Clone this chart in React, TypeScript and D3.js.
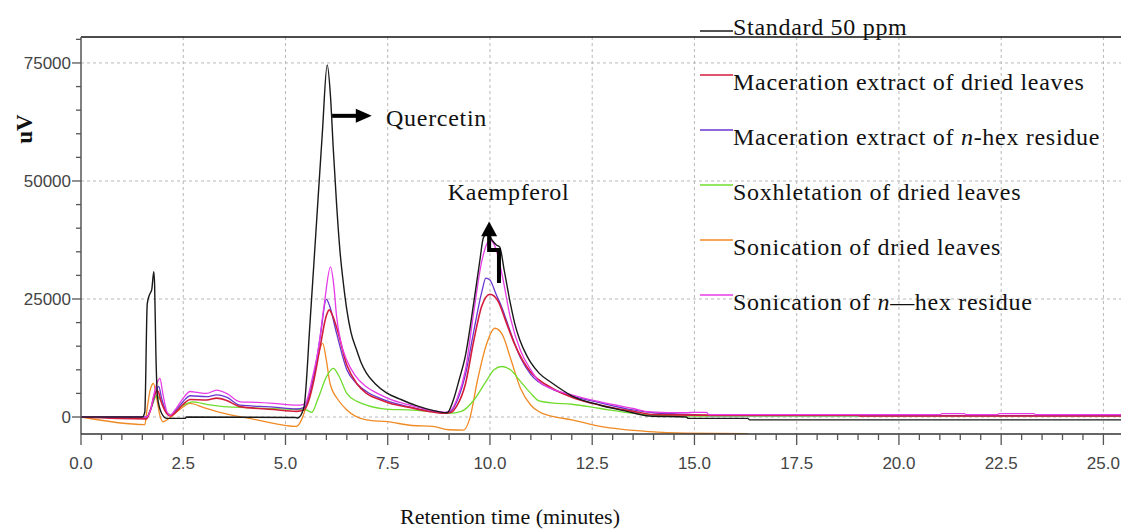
import React from "react";
import * as d3 from "d3";

// retention time (min), signal (uV)
const standard50 = [
  [0, 0], [1.5, 0], [1.56, 1000], [1.62, 24000], [1.68, 26000], [1.73, 27000], [1.78, 30800], [1.8, 28000],
  [1.83, 14000], [1.87, 4300], [1.97, 800], [2.1, -300], [2.55, -300], [2.58, 0], [5.25, -100], [5.3, -200],
  [5.45, 2000], [5.6, 20000], [5.75, 40000], [5.9, 60000], [6.02, 74600], [6.1, 68000], [6.17, 56600],
  [6.25, 45000], [6.33, 35400], [6.42, 28000], [6.5, 22700], [6.6, 18000], [6.74, 14200], [6.85, 11500],
  [6.98, 9300], [7.2, 7000], [7.47, 5100], [7.8, 3800], [8.2, 2400], [8.6, 1400], [8.95, 900], [9.1, 3500],
  [9.25, 8000], [9.4, 13000], [9.6, 24000], [9.75, 33000], [9.84, 38000], [9.95, 39000], [10.05, 37500],
  [10.15, 36500], [10.24, 36000], [10.35, 31000], [10.5, 24000], [10.6, 20000], [10.73, 16300], [10.9, 13000],
  [11.0, 11500], [11.2, 9300], [11.5, 7300], [12.0, 4500], [12.7, 2500], [13.3, 1300], [13.9, 200], [14.8, 0],
  [14.85, -300], [16.3, -300], [16.35, -600], [25.5, -600],
];

const macerationDried = [
  [0, 0], [1.6, -400], [1.7, 1500], [1.81, 5000], [1.88, 5500], [1.95, 3500], [2.1, 700], [2.18, 200],
  [2.3, 900], [2.5, 2700], [2.67, 3700], [3.07, 3600], [3.32, 4000], [3.56, 3500], [3.89, 2200], [4.7, 1600],
  [5.27, 1200], [5.45, 1500], [5.55, 3000], [5.7, 8000], [5.85, 15000], [6.0, 21500], [6.07, 22700],
  [6.15, 21500], [6.25, 19000], [6.5, 11000], [6.75, 7000], [6.98, 5000], [7.3, 3700], [7.55, 2900],
  [8.0, 2100], [8.5, 1200], [8.9, 800], [9.05, 1000], [9.2, 2500], [9.4, 7000], [9.6, 16000], [9.8, 23500],
  [10.0, 26000], [10.2, 24500], [10.4, 20000], [10.6, 15500], [10.8, 12000], [11.0, 9500], [11.5, 6200],
  [12.0, 4200], [12.7, 2500], [13.5, 1200], [14.0, 500], [15.0, 400], [19.0, 400], [19.05, 200], [25.5, 200],
];

const macerationHex = [
  [0, 0], [1.6, 0], [1.72, 2000], [1.82, 5000], [1.9, 6500], [1.97, 4000], [2.1, 900], [2.18, 300],
  [2.3, 1200], [2.5, 3300], [2.67, 4500], [3.07, 4300], [3.32, 4700], [3.56, 4200], [3.89, 2500], [4.7, 2100],
  [5.27, 1700], [5.45, 2000], [5.55, 3500], [5.7, 9000], [5.85, 17000], [6.0, 24900], [6.08, 23500],
  [6.25, 17700], [6.5, 10000], [6.75, 7000], [6.98, 5400], [7.3, 4000], [7.55, 3200], [8.0, 2200],
  [8.5, 1300], [8.9, 900], [9.05, 1300], [9.2, 3500], [9.4, 9000], [9.6, 18000], [9.8, 26500], [9.9, 29400],
  [10.0, 29000], [10.15, 26000], [10.3, 23000], [10.5, 18000], [10.75, 12500], [11.0, 9000], [11.5, 6000],
  [12.0, 4500], [12.7, 3000], [13.5, 1500], [14.0, 900], [15.0, 500], [15.5, 300], [25.5, 300],
];

const soxhletDried = [
  [0, 0], [1.6, 0], [1.72, 2000], [1.85, 4500], [1.95, 3500], [2.1, 900], [2.2, 500], [2.4, 2000],
  [2.6, 2900], [2.74, 3200], [3.1, 2600], [3.48, 2200], [4.3, 1900], [5.27, 1600], [5.5, 1500], [5.64, 1000],
  [5.8, 4000], [6.0, 8500], [6.17, 10300], [6.3, 8800], [6.5, 5000], [6.75, 3300], [6.98, 2500], [7.55, 1600],
  [8.0, 1500], [8.5, 1200], [9.0, 800], [9.3, 1200], [9.6, 3500], [9.9, 7500], [10.1, 10000], [10.29, 10700],
  [10.5, 10000], [10.75, 7500], [11.0, 5000], [11.2, 3400], [11.5, 3000], [12.0, 2700], [12.7, 1800],
  [13.5, 800], [14.0, 400], [15.0, 200], [25.5, 200],
];

const sonicationDried = [
  [0, 0], [1.56, -1600], [1.62, 2000], [1.7, 6000], [1.77, 7100], [1.85, 4000], [1.93, 300], [2.01, -1000],
  [2.15, -300], [2.4, 1500], [2.67, 2900], [3.0, 2000], [3.48, 800], [4.3, -600], [5.27, -2000],
  [5.35, -1300], [5.5, 2000], [5.7, 9000], [5.91, 15600], [6.0, 12000], [6.09, 7100], [6.3, 3500],
  [6.5, 1500], [6.98, -600], [7.5, -1000], [8.1, -1800], [8.6, -2000], [9.0, -2700], [9.35, -2800],
  [9.5, -500], [9.7, 8000], [9.9, 15000], [10.12, 18800], [10.3, 17500], [10.5, 12500], [10.75, 6000],
  [11.0, 2500], [11.2, 1100], [11.5, 200], [12.0, -600], [12.7, -2000], [13.9, -3100], [14.8, -3400],
  [16.3, -3500],
];

const sonicationHex = [
  [0, 0], [1.6, 0], [1.7, 1500], [1.77, 4300], [1.85, 7000], [1.93, 8200], [2.0, 5000], [2.1, 1100],
  [2.18, 400], [2.3, 1500], [2.5, 4000], [2.67, 5400], [2.85, 5200], [3.07, 5000], [3.32, 5700], [3.56, 5000],
  [3.89, 3200], [4.3, 3100], [4.7, 2900], [5.27, 2500], [5.45, 2700], [5.52, 3500], [5.65, 8000],
  [5.8, 14200], [5.95, 24000], [6.1, 31800], [6.18, 28000], [6.25, 21300], [6.35, 16000], [6.5, 12000],
  [6.7, 8800], [6.98, 6400], [7.3, 4800], [7.55, 3800], [8.0, 2600], [8.5, 1500], [8.9, 1000], [9.05, 1500],
  [9.2, 4000], [9.4, 10000], [9.6, 22000], [9.8, 33000], [10.0, 37500], [10.15, 35500], [10.3, 30000],
  [10.5, 21000], [10.75, 14000], [11.0, 10000], [11.2, 7500], [11.5, 6000], [12.0, 4700], [12.7, 3200],
  [13.5, 1800], [13.9, 1100], [14.8, 900], [15.0, 1000], [15.3, 1000], [15.35, 500], [21.0, 500],
  [21.05, 700], [21.6, 700], [21.65, 500], [22.4, 500], [22.45, 700], [23.3, 700], [23.35, 500], [25.5, 500],
];

const seriesNames = [
  "Standard 50 ppm",
  "Maceration extract of dried leaves",
  "Maceration extract of n-hex residue",
  "Soxhletation of dried leaves",
  "Sonication of dried leaves",
  "Sonication of n—hex residue",
];
const seriesData = [standard50, macerationDried, macerationHex, soxhletDried, sonicationDried, sonicationHex];
const seriesColors = ["#1a1a1a", "#d41c3c", "#6a35d0", "#6fdc2e", "#f08a24", "#e63be6"];
const drawOrder = [4, 3, 2, 1, 5, 0];

const xMajorTicks = [0, 2.5, 5, 7.5, 10, 12.5, 15, 17.5, 20, 22.5, 25];
const yMajorTicks = [0, 25000, 50000, 75000];

const W = 1121;
const H = 532;
const left = 81;
const top = 37;
const bottom = 434;
const right = 1121;

const serif = "'Liberation Serif', 'Times New Roman', serif";
const sans = "'Liberation Sans', Arial, sans-serif";

export default function App() {
  const x = d3.scaleLinear().domain([0, 25.43]).range([left, right]);
  const y = d3.scaleLinear().domain([-3600, 80500]).range([bottom, top]);
  const line = d3
    .line<number[]>()
    .x((d) => x(d[0]))
    .y((d) => y(d[1]))
    .curve(d3.curveMonotoneX);

  const xMinor = d3.range(0, 25.01, 0.5);
  const yMinor = d3.range(0, 80001, 5000);

  // legend text and line helper
  const legendBase = (i: number) => 35 + 55 * i;
  const legendLineY = (i: number) => (i === 0 ? 31 : legendBase(i) - 15);

  const renderName = (name: string) => {
    const m = name.match(/^(.*of )n(.*)$/);
    if (!m) return name;
    return (
      <>
        {m[1]}
        <tspan fontStyle="italic">n</tspan>
        {m[2]}
      </>
    );
  };

  // annotation arrows in data coords
  const qy = y(63800);
  const kx1 = x(9.98);
  const kx2 = x(10.22);

  return (
    <svg width={W} height={H} style={{ position: "absolute", left: 0, top: 0, background: "#fff" }}>
      <defs>
        <clipPath id="plot">
          <rect x={left} y={top} width={right - left} height={bottom - top} />
        </clipPath>
      </defs>
      <rect width={W} height={H} fill="#fff" />

      {/* grid */}
      <g stroke="#b8b8b8" strokeWidth={1} strokeDasharray="3,3">
        {xMajorTicks.slice(1).map((t) => (
          <line key={"gx" + t} x1={x(t)} x2={x(t)} y1={top} y2={bottom} />
        ))}
        {yMajorTicks.map((v) => (
          <line key={"gy" + v} x1={left} x2={right} y1={y(v)} y2={y(v)} />
        ))}
      </g>

      {/* series */}
      <g clipPath="url(#plot)" fill="none" strokeLinejoin="round">
        {drawOrder.map((i) => (
          <path
            key={seriesNames[i]}
            d={line(seriesData[i] as number[][]) || ""}
            stroke={seriesColors[i]}
            strokeWidth={i === 0 ? 1.4 : i === 1 ? 1.6 : 1.3}
          />
        ))}
      </g>

      {/* axes */}
      <line x1={left} x2={right} y1={top} y2={top} stroke="#111" strokeWidth={1.5} />
      <line x1={left} x2={left} y1={top} y2={bottom} stroke="#555" strokeWidth={1.5} />
      <line x1={left} x2={right} y1={bottom} y2={bottom} stroke="#333" strokeWidth={1.5} />
      <g stroke="#555" strokeWidth={1.3}>
        {yMinor.map((v) => (
          <line key={"ym" + v} x1={v % 25000 === 0 ? left - 9 : left - 5} x2={left} y1={y(v)} y2={y(v)} />
        ))}
        {xMinor.map((t) => (
          <line key={"xm" + t} x1={x(t)} x2={x(t)} y1={bottom} y2={bottom + (t % 2.5 === 0 ? 11 : 6)} />
        ))}
      </g>
      <g fontFamily={sans} fontSize={17} fill="#444">
        {yMajorTicks.map((v) => (
          <text key={"yl" + v} x={left - 10} y={y(v)} dy="0.36em" textAnchor="end">
            {v}
          </text>
        ))}
        {xMajorTicks.map((t) => (
          <text key={"xl" + t} x={x(t)} y={469} textAnchor="middle">
            {t.toFixed(1)}
          </text>
        ))}
      </g>

      {/* axis titles */}
      <text
        transform={`translate(32,129) rotate(-90)`}
        textAnchor="middle"
        fontFamily={serif}
        fontWeight="bold"
        fontSize={23}
        fill="#111"
      >
        uV
      </text>
      <text x={510} y={524} textAnchor="middle" fontFamily={serif} fontSize={22} fill="#111">
        Retention time (minutes)
      </text>

      {/* legend */}
      <g fontFamily={serif} fontSize={24} letterSpacing={0.7} fill="#111">
        {seriesNames.map((name, i) => (
          <g key={"lg" + i}>
            <line x1={700} x2={733} y1={legendLineY(i)} y2={legendLineY(i)} stroke={seriesColors[i]} strokeWidth={1.3} />
            <text x={733} y={legendBase(i)}>
              {renderName(name)}
            </text>
          </g>
        ))}
      </g>

      {/* annotations */}
      <g fill="#000" stroke="#000">
        <line x1={x(6.14)} x2={x(6.75)} y1={qy} y2={qy} strokeWidth={4} />
        <polygon points={`${x(6.72)},${qy - 7} ${x(7.11)},${qy} ${x(6.72)},${qy + 7}`} stroke="none" />
        <polyline
          points={`${kx2},${y(28400)} ${kx2},${y(35400)} ${kx1},${y(35400)} ${kx1},${y(38600)}`}
          fill="none"
          strokeWidth={4}
        />
        <polygon points={`${kx1 - 8},${y(38300)} ${kx1},${y(41400)} ${kx1 + 8},${y(38300)}`} stroke="none" />
      </g>
      <g fontFamily={serif} fontSize={24} letterSpacing={0.7} fill="#111">
        <text x={x(7.46)} y={y(61700)}>Quercetin</text>
        <text x={x(8.97)} y={y(46000)}>Kaempferol</text>
      </g>
    </svg>
  );
}
